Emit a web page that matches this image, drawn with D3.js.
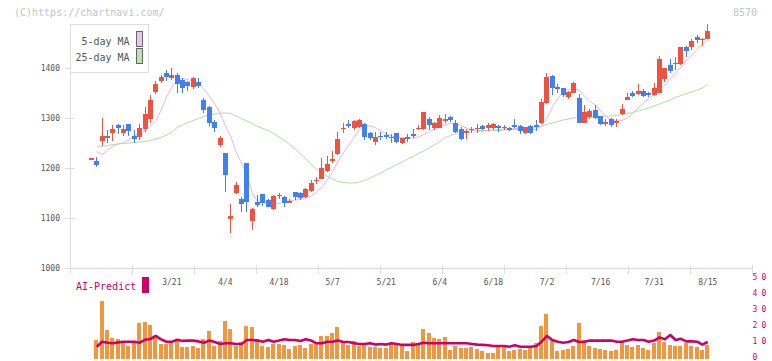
<!DOCTYPE html>
<html>
<head>
<meta charset="utf-8">
<script src="https://cdnjs.cloudflare.com/ajax/libs/d3/7.8.5/d3.min.js"></script>
<style>
    body { margin: 0; background: #fff; }
    svg { display: block; font-family: 'DejaVu Sans Mono', monospace; }
</style>
</head>
<body>
<div id="chart"></div>
<script>
'use strict';

// daily prices, one entry per trading day
var opens = [1220,1215,1255,1264,1271,1287,1271,1289,1264,1263,
    1279,1299,1352,1375,1390,1380,1387,1377,1373,1363,
    1372,1337,1323,1293,1247,1230,1098,1150,1138,1210,
    1095,1133,1148,1137,1119,1147,1142,1130,1152,1150,
    1143,1155,1174,1179,1194,1216,1228,1279,1289,1280,
    1283,1289,1270,1253,1265,1267,1261,1270,1250,1263,
    1268,1279,1279,1298,1281,1281,1296,1302,1291,1278,
    1270,1277,1278,1285,1280,1280,1285,1280,1280,1286,
    1285,1271,1285,1287,1290,1330,1385,1362,1360,1343,
    1351,1340,1291,1303,1317,1305,1290,1298,1290,1309,
    1337,1350,1348,1355,1350,1347,1351,1378,1407,1409,
    1408,1443,1443,1462,1457,1459];

var highs = [1220,1222,1300,1277,1287,1289,1286,1289,1277,1288,
    1323,1347,1375,1387,1397,1400,1390,1381,1375,1383,
    1380,1341,1325,1297,1265,1231,1129,1173,1143,1211,
    1120,1147,1149,1138,1147,1150,1145,1139,1153,1152,
    1160,1177,1183,1220,1225,1235,1273,1290,1297,1297,
    1298,1290,1272,1272,1272,1272,1268,1271,1261,1268,
    1278,1287,1312,1302,1292,1307,1308,1305,1297,1283,
    1278,1282,1289,1287,1290,1290,1287,1287,1283,1298,
    1287,1283,1287,1297,1339,1391,1387,1369,1361,1355,
    1372,1349,1327,1319,1327,1305,1298,1300,1298,1329,
    1351,1355,1369,1358,1353,1371,1425,1401,1418,1423,
    1443,1445,1459,1467,1460,1489];

var lows = [1220,1202,1245,1250,1255,1269,1265,1265,1250,1257,
    1273,1290,1348,1370,1375,1377,1351,1350,1355,1359,
    1360,1311,1285,1273,1243,1153,1070,1149,1113,1113,
    1077,1123,1125,1122,1117,1138,1123,1130,1137,1137,
    1140,1153,1169,1178,1193,1210,1227,1270,1280,1277,
    1280,1257,1257,1247,1257,1258,1250,1250,1248,1253,
    1260,1277,1277,1277,1277,1280,1291,1293,1270,1257,
    1259,1270,1270,1277,1275,1276,1273,1277,1274,1280,
    1269,1269,1269,1275,1289,1329,1347,1350,1343,1339,
    1350,1291,1290,1298,1298,1287,1285,1283,1283,1307,
    1337,1343,1347,1343,1342,1345,1350,1373,1390,1397,
    1406,1423,1437,1450,1445,1458];

var closes = [1220,1207,1265,1261,1278,1281,1278,1275,1259,1280,
    1309,1337,1369,1383,1383,1387,1369,1360,1364,1380,
    1365,1317,1290,1281,1260,1187,1104,1167,1128,1132,
    1119,1127,1131,1123,1145,1144,1130,1134,1142,1141,
    1158,1171,1177,1201,1209,1218,1259,1281,1285,1295,
    1297,1263,1260,1263,1262,1262,1263,1253,1260,1258,
    1264,1281,1312,1287,1290,1300,1298,1296,1272,1259,
    1275,1279,1281,1278,1287,1288,1281,1283,1277,1284,
    1275,1282,1271,1282,1333,1383,1361,1359,1347,1353,
    1370,1291,1313,1315,1301,1289,1292,1287,1295,1319,
    1343,1345,1355,1345,1348,1360,1418,1400,1395,1411,
    1443,1435,1455,1457,1459,1475];

var ma5 = [null,1233,1227,1236,1243,1248,1251,1256,1264,1272,
    1276,1283,1295,1315,1342,1362,1376,1379,1377,1373,
    1369,1358,1344,1328,1310,1284,1263,1232,1210,1188,
    1150,1133,1131,1130,1129,1129,1132,1134,1136,1137,
    1140,1144,1152,1162,1176,1193,1213,1230,1246,1261,
    1276,1283,1284,1281,1274,1268,1264,1262,1261,1260,
    1260,1262,1267,1272,1278,1282,1286,1290,1289,1285,
    1280,1276,1274,1273,1275,1276,1277,1278,1278,1279,
    1279,1278,1277,1277,1284,1300,1322,1339,1352,1357,
    1358,1356,1344,1333,1325,1315,1302,1297,1294,1295,
    1300,1309,1320,1330,1339,1348,1357,1366,1378,1390,
    1402,1415,1426,1437,1447,1458];

var ma25 = [null,1242,1244,1245,1247,1248,1249,1250,1251,1252,
    1253,1255,1258,1261,1266,1272,1281,1286,1291,1295,
    1299,1303,1306,1308,1310,1310,1309,1304,1299,1294,
    1289,1283,1279,1275,1269,1262,1255,1247,1238,1229,
    1219,1208,1197,1190,1183,1178,1173,1171,1170,1170,
    1172,1175,1180,1185,1190,1196,1201,1207,1212,1218,
    1223,1229,1234,1240,1246,1253,1261,1265,1269,1271,
    1273,1274,1275,1275,1275,1275,1275,1276,1277,1277,
    1278,1279,1280,1281,1284,1287,1290,1293,1296,1298,
    1300,1301,1302,1302,1303,1303,1304,1304,1305,1307,
    1309,1311,1314,1317,1320,1324,1328,1332,1336,1341,
    1345,1349,1352,1356,1360,1367];

var volume = [null,11.9,36.3,18.1,13.1,12.5,11.3,8.1,10.5,22.6,
    23.2,21.3,13.2,9.4,9.4,10.7,11.9,7.5,7.5,8.3,
    6.9,12.5,17.7,8.3,11.3,24.0,18.8,8.3,10.6,20.6,
    20.2,12.5,8.1,7.5,9.4,9.4,8.8,6.3,8.1,8.8,
    6.9,9.4,9.4,14.4,14.4,16.3,20.0,10.8,8.8,11.3,
    8.1,8.8,7.5,7.5,6.9,6.9,10.0,10.0,8.8,5.0,
    10.8,8.8,18.8,16.5,13.3,12.5,13.9,5.8,8.1,6.9,
    6.9,7.5,6.3,5.0,3.8,3.8,7.5,7.7,5.2,5.8,
    6.0,5.4,7.7,9.8,20.6,28.1,11.9,4.8,5.4,6.0,
    8.1,22.5,11.9,8.1,6.9,6.0,5.4,5.2,5.4,10.8,
    8.8,7.7,8.8,6.9,5.4,9.8,16.9,10.6,8.8,8.1,
    8.1,10.0,8.1,7.7,5.4,8.8];

var aiPredict = [null,7.7,10.8,10.2,9.8,10.4,10.8,10.8,10.8,10.2,
    12.0,12.5,14.4,12.3,10.8,10.8,12.0,11.3,11.5,11.5,
    11.0,10.2,11.5,10.6,9.4,9.8,9.8,9.4,9.4,11.9,
    11.9,11.5,10.8,11.9,10.8,11.5,12.3,11.9,11.9,11.2,
    12.3,11.5,9.8,9.8,10.8,10.8,11.5,10.6,10.6,9.8,
    9.4,9.4,9.8,9.0,9.4,9.0,9.8,9.4,8.8,8.8,
    8.8,9.4,10.2,9.8,9.8,9.8,9.8,9.8,9.8,9.8,
    9.8,9.4,9.0,8.8,8.6,8.1,8.1,8.1,7.7,8.6,
    7.7,7.7,7.7,8.1,10.8,14.4,11.9,10.8,10.2,10.6,
    11.9,10.6,10.8,11.5,11.5,11.5,11.5,11.5,10.8,10.8,
    11.5,12.3,11.9,11.9,10.8,11.5,13.5,12.3,15.0,11.9,
    12.6,11.0,11.0,10.8,9.0,10.6];

// date labels and the trading-day index they sit on
var dateLabels = ['3/21', '4/4', '4/18', '5/7', '5/21', '6/4', '6/18', '7/2', '7/16', '7/31', '8/15'];
var dateIndex = [15, 25, 35, 45, 55, 65, 75, 85, 95, 105, 115];

var priceTicks = [1000, 1100, 1200, 1300, 1400];
var aiTicks = [0, 10, 20, 30, 40, 50];

var chartModule = (function() {

    var width = 772,
        height = 361;

    var left = 70,
        right = 752,
        top = 24,
        bottom = 268;

    var up = '#f05242',
        down = '#4080f0',
        grey = '#dddddd',
        magenta = '#cc0066';

    var svg = d3.select('#chart').append('svg')
        .attr('width', width)
        .attr('height', height);

    var x = d3.scaleLinear().domain([-4, 123.25]).range([left, right]);
    var y = d3.scaleLinear().domain([1000, 1400]).range([268, 68]);
    var yv = d3.scaleLinear().domain([0, 50]).range([359, 279]);

    var idx = d3.range(closes.length);

    var init = function() {
        drawText();
        drawAxes();
        drawLegend();
        drawPrice();
        drawPredict();
    };

    function drawText() {
        svg.append('text')
            .attr('x', 14)
            .attr('y', 16)
            .attr('font-size', 10)
            .attr('fill', '#c4c4c4')
            .text('(C)https://chartnavi.com/');

        svg.append('text')
            .attr('x', 757)
            .attr('y', 16)
            .attr('font-size', 10)
            .attr('text-anchor', 'end')
            .attr('fill', '#c4c4c4')
            .text('8570');
    }

    function drawAxes() {
        var g = svg.append('g').attr('stroke', grey);

        g.append('line')
            .attr('x1', left + 0.5).attr('x2', left + 0.5)
            .attr('y1', top).attr('y2', bottom);

        g.append('line')
            .attr('x1', left).attr('x2', right)
            .attr('y1', bottom + 0.5).attr('y2', bottom + 0.5)
            .attr('stroke-width', 1.5);

        g.selectAll('.ytick')
            .data(priceTicks)
            .enter()
            .append('line')
            .attr('x1', 65).attr('x2', 75)
            .attr('y1', function(d) { return Math.round(y(d)) + 0.5; })
            .attr('y2', function(d) { return Math.round(y(d)) + 0.5; });

        // evenly spaced marks along the bottom axis
        var xt = d3.scaleLinear().domain([0, 11]).range([left, right]);
        g.selectAll('.xtick')
            .data(d3.range(12))
            .enter()
            .append('line')
            .attr('x1', function(d) { return Math.round(xt(d)) + 0.5; })
            .attr('x2', function(d) { return Math.round(xt(d)) + 0.5; })
            .attr('y1', 265).attr('y2', 274);

        svg.selectAll('.ylabel')
            .data(priceTicks)
            .enter()
            .append('text')
            .attr('x', 60)
            .attr('y', function(d) { return y(d) + 3; })
            .attr('text-anchor', 'end')
            .attr('font-size', 8)
            .attr('fill', '#555')
            .text(function(d) { return d; });

        svg.selectAll('.xlabel')
            .data(dateLabels)
            .enter()
            .append('text')
            .attr('x', function(d, i) { return x(dateIndex[i]); })
            .attr('y', 285)
            .attr('text-anchor', 'middle')
            .attr('font-size', 8)
            .attr('fill', '#555')
            .text(function(d) { return d; });

        svg.selectAll('.alabel')
            .data(aiTicks)
            .enter()
            .append('text')
            .attr('x', 752.5)
            .attr('y', function(d) { return yv(d) + 1.3; })
            .attr('font-size', 8)
            .attr('letter-spacing', 4.2)
            .attr('fill', magenta)
            .text(function(d) { return d; });
    }

    function drawLegend() {
        var g = svg.append('g');

        g.append('rect')
            .attr('x', left + 0.5).attr('y', top + 0.5)
            .attr('width', 78).attr('height', 48)
            .attr('fill', '#fff')
            .attr('stroke', grey);

        var items = [['5-day MA', '#f0c0f0'], ['25-day MA', '#c0e0b0']];
        items.forEach(function(it, i) {
            g.append('text')
                .attr('x', 129.5)
                .attr('y', 45 + i * 16)
                .attr('text-anchor', 'end')
                .attr('font-size', 11)
                .attr('textLength', it[0].length * 6)
                .attr('lengthAdjust', 'spacingAndGlyphs')
                .attr('fill', '#555')
                .text(it[0]);
            g.append('rect')
                .attr('x', 136.5).attr('y', 31.5 + i * 17)
                .attr('width', 6).attr('height', 15)
                .attr('fill', it[1])
                .attr('stroke', '#666');
        });
    }

    function drawPrice() {
        var maLine = d3.line()
            .defined(function(d) { return d != null; })
            .x(function(d, i) { return x(i); })
            .y(function(d) { return y(d); });

        svg.append('path')
            .attr('d', maLine(ma25))
            .attr('fill', 'none')
            .attr('stroke', '#b5daa5')
            .attr('stroke-width', 1);

        svg.append('path')
            .attr('d', maLine(ma5))
            .attr('fill', 'none')
            .attr('stroke', '#e8b4e8')
            .attr('stroke-width', 1);

        var candles = svg.append('g')
            .attr('shape-rendering', 'crispEdges')
            .selectAll('g')
            .data(idx)
            .enter()
            .append('g')
            .attr('fill', function(i) { return closes[i] >= opens[i] ? up : down; })
            .attr('stroke', function(i) { return closes[i] >= opens[i] ? up : down; });

        candles.append('line')
            .attr('x1', function(i) { return Math.floor(x(i)) + 0.5; })
            .attr('x2', function(i) { return Math.floor(x(i)) + 0.5; })
            .attr('y1', function(i) { return y(highs[i]); })
            .attr('y2', function(i) { return y(lows[i]); });

        candles.append('rect')
            .attr('stroke', 'none')
            .attr('x', function(i) { return Math.round(x(i) - 2.5); })
            .attr('width', 5)
            .attr('y', function(i) { return y(Math.max(opens[i], closes[i])); })
            .attr('height', function(i) {
                return Math.max(1.5, Math.abs(y(opens[i]) - y(closes[i])));
            });
    }

    function drawPredict() {
        svg.append('text')
            .attr('x', 76)
            .attr('y', 289.5)
            .attr('font-size', 10)
            .attr('fill', magenta)
            .text('AI-Predict');

        svg.append('rect')
            .attr('x', 142).attr('y', 277)
            .attr('width', 7).attr('height', 16)
            .attr('fill', magenta);

        svg.append('g')
            .attr('shape-rendering', 'crispEdges')
            .selectAll('rect')
            .data(idx.filter(function(i) { return volume[i] != null; }))
            .enter()
            .append('rect')
            .attr('x', function(i) { return Math.round(x(i) - 2.5); })
            .attr('width', 4)
            .attr('y', function(i) { return yv(volume[i]); })
            .attr('height', function(i) { return yv(0) - yv(volume[i]); })
            .attr('fill', '#f0963e');

        var aiLine = d3.line()
            .defined(function(d) { return d != null; })
            .x(function(d, i) { return x(i); })
            .y(function(d) { return yv(d); });

        svg.append('path')
            .attr('d', aiLine(aiPredict))
            .attr('fill', 'none')
            .attr('stroke', magenta)
            .attr('stroke-width', 2.6)
            .attr('stroke-linejoin', 'round');
    }

    return {
        init: init
    };
})();

chartModule.init();
</script>
</body>
</html>
